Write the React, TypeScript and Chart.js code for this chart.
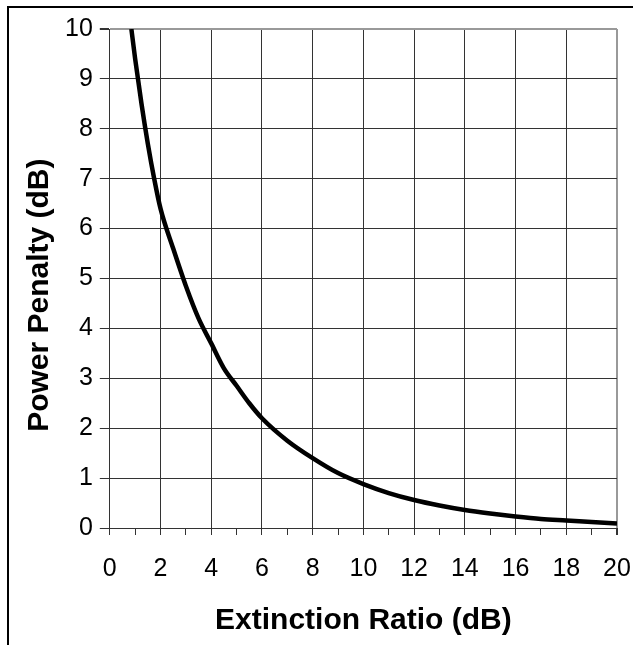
import React, { useEffect, useRef } from "react";
import { Chart, registerables } from "chart.js";

Chart.register(...registerables);

const extinctionRatio = [0.85, 1, 1.25, 1.5, 1.75, 2, 2.5, 3, 3.5, 4, 4.5, 5, 5.5, 6, 7, 8, 9, 10, 11, 12, 13, 14, 15, 16, 17, 18, 19, 20];
const powerPenalty = [10, 9.4, 8.5, 7.7, 7.0, 6.4, 5.6, 4.85, 4.2, 3.7, 3.2, 2.85, 2.5, 2.2, 1.75, 1.4, 1.1, 0.88, 0.7, 0.56, 0.45, 0.36, 0.29, 0.23, 0.18, 0.15, 0.12, 0.09];
const xTitle = "Extinction Ratio (dB)";
const yTitle = "Power Penalty (dB)    ";
const FONT = "'Liberation Sans', Arial, sans-serif";

export default function App() {
  const ref = useRef<HTMLCanvasElement | null>(null);

  useEffect(() => {
    if (!ref.current) return;
    const points = extinctionRatio.map((x, i) => ({ x, y: powerPenalty[i] }));
    const chart = new Chart(ref.current, {
      type: "line",
      data: {
        datasets: [
          {
            data: points,
            borderColor: "#000",
            borderWidth: 4.5,
            pointRadius: 0,
            cubicInterpolationMode: "monotone",
            fill: false,
          },
        ],
      },
      options: {
        animation: false,
        responsive: false,
        maintainAspectRatio: false,
        layout: { padding: { left: 22, right: 16, top: 29, bottom: 6 } },
        plugins: { legend: { display: false }, tooltip: { enabled: false } },
        scales: {
          x: {
            type: "linear",
            min: 0,
            max: 20,
            afterFit: (s: any) => {
              s.paddingLeft = 0;
              s.paddingRight = 0;
            },
            ticks: {
              stepSize: 1,
              autoSkip: false,
              maxRotation: 0,
              color: "#000",
              padding: 19,
              font: { family: FONT, size: 25 },
              callback: (v: any) => (Number(v) % 2 === 0 ? String(v) : ""),
            },
            grid: {
              color: (ctx: any) => {
                const v = ctx.tick ? ctx.tick.value : 0;
                if (v % 2 !== 0) return "rgba(0,0,0,0)";
                return v === 20 ? "#999" : "#333";
              },
              lineWidth: (ctx: any) => (ctx.tick && ctx.tick.value === 20 ? 2 : 1),
              tickColor: "#333",
              tickLength: 7,
            },
            border: { color: "#333", width: 1 },
            title: {
              display: true,
              text: xTitle,
              color: "#000",
              font: { family: FONT, size: 30, weight: "bold" },
              padding: { top: 0, bottom: 0 },
            },
          },
          y: {
            min: 0,
            max: 10,
            afterFit: (s: any) => {
              s.paddingTop = 0;
              s.paddingBottom = 0;
            },
            ticks: {
              stepSize: 1,
              color: "#000",
              padding: 7,
              font: { family: FONT, size: 25 },
            },
            grid: {
              color: (ctx: any) => (ctx.tick && ctx.tick.value === 10 ? "#999" : "#333"),
              lineWidth: (ctx: any) => (ctx.tick && ctx.tick.value === 10 ? 2 : 1),
              tickColor: "#333",
              tickLength: 10,
            },
            border: { color: "#333", width: 1 },
            title: {
              display: true,
              text: yTitle,
              color: "#000",
              font: { family: FONT, size: 30, weight: "bold" },
              padding: { top: 0, bottom: 0 },
            },
          },
        },
      },
    });
    return () => chart.destroy();
  }, []);

  return (
    <div style={{ position: "fixed", left: 0, top: 0, width: 633, height: 645, background: "#fff" }}>
      <div
        style={{
          position: "absolute",
          left: 7,
          top: 6,
          width: 700,
          height: 700,
          borderLeft: "2px solid #000",
          borderTop: "2px solid #000",
        }}
      />
      <canvas
        ref={ref}
        width={633}
        height={645}
        style={{ position: "absolute", left: 0, top: 0, width: 633, height: 645 }}
      />
    </div>
  );
}
